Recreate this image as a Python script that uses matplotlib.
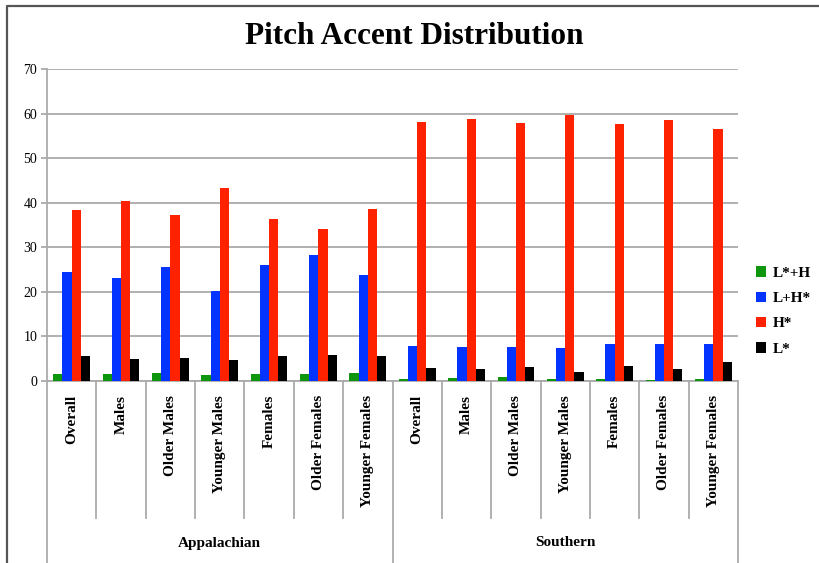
import matplotlib.pyplot as plt
from matplotlib.lines import Line2D
import numpy as np

plt.rcParams['font.family'] = ['Liberation Serif', 'DejaVu Serif']

# Percentages per subgroup, Appalachian first then Southern
subgroups = ['Overall', 'Males', 'Older Males', 'Younger Males',
             'Females', 'Older Females', 'Younger Females']
regions = ['Appalachian', 'Southern']

lstar_h = [1.6, 1.6, 1.8, 1.4, 1.6, 1.6, 1.8,
           0.5, 0.75, 0.95, 0.5, 0.4, 0.25, 0.5]
l_hstar = [24.5, 23.0, 25.6, 20.3, 26.0, 28.3, 23.8,
           7.9, 7.6, 7.7, 7.4, 8.3, 8.3, 8.3]
hstar = [38.4, 40.3, 37.3, 43.3, 36.4, 34.1, 38.6,
         58.1, 58.7, 57.9, 59.6, 57.6, 58.6, 56.6]
lstar = [5.5, 5.0, 5.2, 4.8, 5.7, 5.9, 5.7,
         3.0, 2.8, 3.2, 2.1, 3.4, 2.8, 4.3]

series = [('L*+H', lstar_h, '#0e960e'),
          ('L+H*', l_hstar, '#0233ff'),
          ('H*', hstar, '#ff2200'),
          ('L*', lstar, '#000000')]

W, H = 819, 563
fig = plt.figure(figsize=(W / 100, H / 100), dpi=100)
ax = fig.add_axes([47 / W, 1 - 381 / H, (738 - 47) / W, (381 - 69) / H])

labels = subgroups * len(regions)
x = np.arange(len(labels))
bw = 0.186
for i, (name, vals, col) in enumerate(series):
    ax.bar(x + (i - 1.5) * bw, vals, bw, color=col, label=name, zorder=3)

ax.set_xlim(-0.5, len(labels) - 0.5)
ax.set_ylim(0, 70)
ax.set_yticks(range(0, 71, 10))
ax.grid(axis='y', color='#aaaaaa', linewidth=1.3, zorder=0)
ax.tick_params(axis='y', length=4, width=1.3, color='#aaaaaa', labelsize=10, pad=3)
ax.tick_params(axis='x', length=0, labelbottom=False)
for s in ['top', 'right']:
    ax.spines[s].set_visible(False)
ax.spines['left'].set_color('#aaaaaa')
ax.spines['left'].set_linewidth(1.3)
ax.spines['bottom'].set_color('#aaaaaa')
ax.spines['bottom'].set_linewidth(1.3)

# category labels and the divider lines under the axis
tr = ax.get_xaxis_transform()
axh = 381 - 69
cat_bot = -(518 - 381) / axh
grp_bot = -(H - 381) / axh
for k, lab in enumerate(labels):
    ax.text(k, -(395 - 381) / axh, lab, transform=tr, rotation=90,
            ha='center', va='top', fontsize=11, fontweight='bold')
for k in range(len(labels) + 1):
    bot = grp_bot if k % len(subgroups) == 0 else cat_bot
    ax.plot([k - 0.5, k - 0.5], [0, bot], transform=tr, color='#aaaaaa',
            linewidth=1.3, clip_on=False)
for g, reg in enumerate(regions):
    cx = g * len(subgroups) + (len(subgroups) - 1) / 2
    ax.text(cx, -(543 - 381) / axh, reg, transform=tr, ha='center', va='center',
            fontsize=11, fontweight='bold')

fig.text(414 / W, 1 - 37 / H, 'Pitch Accent Distribution', ha='center', va='center',
         fontsize=22.5, fontweight='bold')

ax.legend(loc='center left', bbox_to_anchor=(742 / W, 1 - 311 / H),
          bbox_transform=fig.transFigure, frameon=False, handlelength=0.7,
          handleheight=0.7, handletextpad=0.4, labelspacing=0.75,
          prop={'weight': 'bold', 'size': 11})

# outer frame on the left and top edges
fig.add_artist(Line2D([7 / W, 7 / W, 1.02], [-0.02, 1 - 6 / H, 1 - 6 / H],
                      transform=fig.transFigure, color='#555555', linewidth=1.6))

fig.savefig('out.png', dpi=100)
